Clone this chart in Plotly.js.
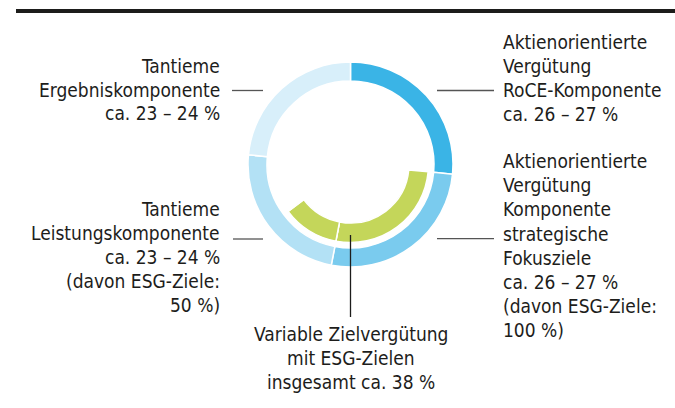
<!DOCTYPE html>
<html>
<head>
<meta charset="utf-8">
<script src="https://cdn.plot.ly/plotly-3.0.1.min.js"></script>
<style>html,body{margin:0;padding:0;background:#fff;}#chart{width:675px;height:408px;}</style>
</head>
<body>
<div id="chart"></div>
<script>
// ---- data ----
const segmentLabels = [
  "Aktienorientierte Vergütung RoCE-Komponente",
  "Aktienorientierte Vergütung Komponente strategische Fokusziele",
  "Tantieme Leistungskomponente",
  "Tantieme Ergebniskomponente"
];
const segmentShares = [26.5, 26.5, 23.5, 23.5];   // % of variable target remuneration
const esgSharesOfSegment = [0, 100, 50, 0];        // % of each component tied to ESG goals
const segmentColors = ["#3AB4E6", "#7ACBEE", "#B3E1F5", "#D8EFFA"];
const esgColor = "#C4D65A";

const labelErgebnis = ["Tantieme", "Ergebniskomponente", "ca. 23 – 24 %"];
const labelLeistung = ["Tantieme", "Leistungskomponente", "ca. 23 – 24 %", "(davon ESG-Ziele:", "50 %)"];
const labelRoce = ["Aktienorientierte", "Vergütung", "RoCE-Komponente", "ca. 26 – 27 %"];
const labelFokus = ["Aktienorientierte", "Vergütung", "Komponente", "strategische", "Fokusziele",
                    "ca. 26 – 27 %", "(davon ESG-Ziele:", "100 %)"];
const labelEsg = ["Variable Zielvergütung", "mit ESG-Zielen", "insgesamt ca. 38 %"];

// ---- build inner ring (ESG part of each component) ----
const innerValues = [], innerColors = [], innerLabels = [];
segmentShares.forEach((s, i) => {
  const esg = s * esgSharesOfSegment[i] / 100;
  innerValues.push(esg); innerColors.push(esgColor); innerLabels.push(segmentLabels[i] + " ESG");
  innerValues.push(s - esg); innerColors.push("rgba(0,0,0,0)"); innerLabels.push(segmentLabels[i] + " rest");
});

// ---- layout helpers (pixel -> paper) ----
const W = 675, H = 408;
const X = p => p / W, Y = p => 1 - p / H;
const cx = 350.5, cy = 164.5, rOuter = 102.5, rInner = 78;
const dom = r => ({x: [X(cx - r), X(cx + r)], y: [Y(cy + r), Y(cy - r)]});

const outer = {
  type: "pie", values: segmentShares, labels: segmentLabels, sort: false,
  direction: "clockwise", rotation: 0, hole: 83.5 / rOuter,
  marker: {colors: segmentColors, line: {color: "#ffffff", width: 1.5}},
  textinfo: "none", hoverinfo: "none", showlegend: false, domain: dom(rOuter)
};
const inner = {
  type: "pie", values: innerValues, labels: innerLabels, sort: false,
  direction: "clockwise", rotation: 0, hole: 58.5 / rInner,
  marker: {colors: innerColors, line: {color: "#ffffff", width: 1.5}},
  textinfo: "none", hoverinfo: "none", showlegend: false, domain: dom(rInner)
};

const font = {family: "DejaVu Sans Condensed, DejaVu Sans, sans-serif", size: 19, color: "#1d1d1b"};
const block = (lines, x, y0, step, xanchor) => lines.map((t, i) => ({
  text: t, xref: "paper", yref: "paper", x: X(x), y: Y(y0 + i * step), xanchor, yanchor: "middle",
  showarrow: false, font, borderpad: 0
}));
const line = (x0, y0, x1, y1, color, width) => ({
  type: "line", xref: "paper", yref: "paper", x0: X(x0), y0: Y(y0), x1: X(x1), y1: Y(y1),
  line: {color, width}
});

const layout = {
  width: W, height: H, margin: {l: 0, r: 0, t: 0, b: 0},
  paper_bgcolor: "#ffffff", plot_bgcolor: "#ffffff",
  annotations: [].concat(
    block(labelErgebnis, 221, 66, 23.7, "right"),
    block(labelLeistung, 221, 209, 24, "right"),
    block(labelRoce, 502, 42, 24, "left"),
    block(labelFokus, 502, 161.5, 24, "left"),
    block(labelEsg, 351, 334, 24, "center")
  ),
  shapes: [
    line(16, 11, 675, 11, "#1d1d1b", 4),
    line(232, 90.5, 263, 90.5, "#555555", 1.3),
    line(233, 239, 263, 239, "#555555", 1.3),
    line(437, 90.5, 494, 90.5, "#555555", 1.3),
    line(437, 238.7, 494, 238.7, "#555555", 1.3),
    line(350.5, 235, 350.5, 317, "#1d1d1b", 1.3)
  ]
};

Plotly.newPlot("chart", [outer, inner], layout, {displayModeBar: false, staticPlot: true});
</script>
</body>
</html>
